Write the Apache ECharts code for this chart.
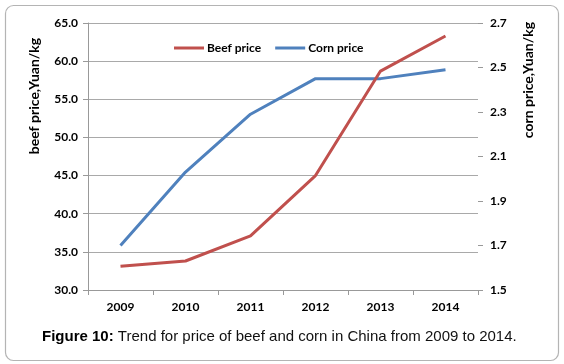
<!DOCTYPE html>
<html>
<head>
<meta charset="utf-8">
<script src="https://cdn.jsdelivr.net/npm/echarts@6/dist/echarts.min.js"></script>
<style>html,body{margin:0;padding:0;background:#fff}#c{width:564px;height:364px}</style>
</head>
<body>
<div id="c"></div>
<script>
const years = ['2009', '2010', '2011', '2012', '2013', '2014'];
const beefPrice = [33.1, 33.8, 37.1, 45.0, 58.7, 63.3];
const cornPrice = [1.70, 2.03, 2.29, 2.45, 2.45, 2.49];
const beefTicks = { min: 30, max: 65, interval: 5 };
const cornTicks = { min: 1.5, max: 2.7, interval: 0.2 };

const chart = echarts.init(document.getElementById('c'));
const lblFont = { fontFamily: 'Lato', fontWeight: 'bold', fontSize: 12, color: '#000' };
chart.setOption({
  animation: false,
  backgroundColor: '#fff',
  grid: { left: 88, right: 86, top: 23, bottom: 74, containLabel: false },
  title: {
    text: '{b|Figure 10:}{n| Trend for price of beef and corn in China from 2009 to 2014.}',
    left: 37, top: 324,
    textStyle: {
      fontWeight: 'normal',
      rich: {
        b: { fontFamily: 'Liberation Sans', fontWeight: 'bold', fontSize: 15, color: '#000' },
        n: { fontFamily: 'Liberation Sans', fontWeight: 'normal', fontSize: 15, color: '#111' }
      }
    }
  },
  legend: {
    left: 169, top: 37, itemGap: 14, itemWidth: 30, itemHeight: 3, icon: 'rect',
    textStyle: { fontFamily: 'Lato', fontWeight: 'bold', fontSize: 12, color: '#000', padding: [0, 0, 0, -2] },
    data: ['Beef price', 'Corn price']
  },
  xAxis: {
    type: 'category', data: years, boundaryGap: true,
    axisLine: { lineStyle: { color: '#999', width: 1 } },
    axisTick: { show: true, length: 5, lineStyle: { color: '#999' } },
    axisLabel: Object.assign({ margin: 11 }, lblFont)
  },
  yAxis: [
    {
      type: 'value', min: beefTicks.min, max: beefTicks.max, interval: beefTicks.interval,
      axisLine: { show: true, lineStyle: { color: '#999' } },
      axisTick: { show: true, length: 5, lineStyle: { color: '#999' } },
      splitLine: { show: true, lineStyle: { color: '#a9a9a9', width: 1 } },
      axisLabel: Object.assign({ margin: 10, formatter: v => v.toFixed(1) }, lblFont)
    },
    {
      type: 'value', min: cornTicks.min, max: cornTicks.max, interval: cornTicks.interval,
      axisLine: { show: false },
      axisTick: { show: true, length: 5, lineStyle: { color: '#999' } },
      splitLine: { show: false },
      axisLabel: Object.assign({ margin: 12, formatter: v => v.toFixed(1) }, lblFont)
    }
  ],
  series: [
    {
      name: 'Beef price', type: 'line', yAxisIndex: 0, data: beefPrice, symbol: 'none', z: 4,
      itemStyle: { color: '#C0504D' }, lineStyle: { color: '#C0504D', width: 3 }
    },
    {
      name: 'Corn price', type: 'line', yAxisIndex: 1, data: cornPrice, symbol: 'none', z: 3,
      itemStyle: { color: '#4F81BD' }, lineStyle: { color: '#4F81BD', width: 3 }
    }
  ],
  graphic: [
    {
      type: 'rect', left: 3, top: 3, silent: true, z: -1,
      shape: { width: 553, height: 355, r: 8 },
      style: { fill: 'none', stroke: '#b4b4b4', lineWidth: 1.2 }
    },
    {
      type: 'text', x: 34, y: 96, rotation: Math.PI / 2,
      style: { text: 'beef price,Yuan/kg', fontFamily: 'Lato', fontWeight: 'bold', fontSize: 14, fill: '#000', align: 'center', verticalAlign: 'middle' }
    },
    {
      type: 'text', x: 528, y: 80, rotation: Math.PI / 2,
      style: { text: 'corn price,Yuan/kg', fontFamily: 'Lato', fontWeight: 'bold', fontSize: 14, fill: '#000', align: 'center', verticalAlign: 'middle' }
    }
  ]
});
</script>
</body>
</html>
